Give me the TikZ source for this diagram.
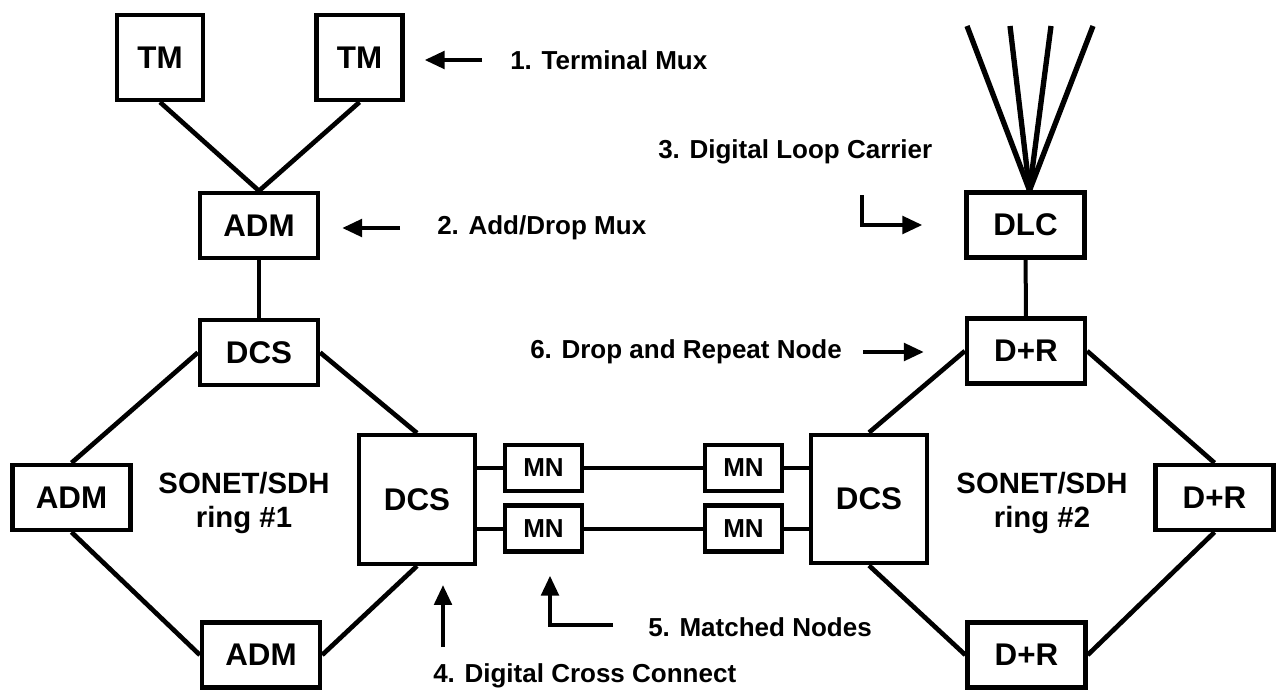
\documentclass[tikz,border=0pt]{standalone}
\usepackage{fontspec}
\setmainfont{Liberation Sans}
\usetikzlibrary{arrows.meta,calc}
\begin{document}
\begin{tikzpicture}[x=0.75pt,y=-0.75pt,
  box/.style={draw,line width=3.2pt,inner sep=0pt,minimum width=88.5pt,minimum height=48.75pt,
    font=\fontsize{23.5}{27}\selectfont\bfseries},
  tmbox/.style={box,minimum width=64.5pt,minimum height=63.75pt},
  bigbox/.style={box,minimum width=87pt,minimum height=96.5pt},
  mnbox/.style={box,minimum width=57.75pt,minimum height=34.5pt,font=\fontsize{19.5}{22}\selectfont\bfseries},
  lbl/.style={inner sep=0pt,anchor=west,font=\fontsize{19.5}{23}\selectfont\bfseries},
  ringlbl/.style={inner sep=0pt,align=center,font=\fontsize{22}{25.5}\selectfont\bfseries},
  link/.style={line width=3pt},
  diag/.style={line width=3.5pt},
  fanline/.style={line width=4pt},
  arr/.style={line width=3.2pt,-{Triangle[length=15pt,width=13pt]}}]
\useasboundingbox (0,0) rectangle (1276,689);

% equipment boxes
\node[tmbox] (tm1) at (160,57.5) {TM};
\node[tmbox] (tm2) at (359.5,57.5) {TM};
\node[box] (adm1) at (259,225.5) {ADM};
\node[box] (dcs1) at (259,352.5) {DCS};
\node[box] (admL) at (71.5,497.5) {ADM};
\node[box] (admB) at (261,655) {ADM};
\node[bigbox] (dcsL) at (417,499.5) {DCS};
\node[mnbox] (mntl) at (543.5,468) {MN};
\node[mnbox] (mnbl) at (543.5,528.5) {MN};
\node[mnbox] (mntr) at (743.5,468) {MN};
\node[mnbox] (mnbr) at (743.5,528.5) {MN};
\node[bigbox] (dcsR) at (869,499) {DCS};
\node[box] (dlc) at (1025.5,225) {DLC};
\node[box] (dr1) at (1026,351) {D+R};
\node[box] (drR) at (1214.5,497.5) {D+R};
\node[box] (drB) at (1026.5,655) {D+R};

% ring captions
\node[ringlbl] (ring1) at (244,503) {SONET/SDH\\ring \#1};
\node[ringlbl] (ring2) at (1042,503) {SONET/SDH\\ring \#2};

% legend texts
\node[lbl] (l1) at (510,60) {1. Terminal Mux};
\node[lbl] (l2) at (437,228) {2. Add/Drop Mux};
\node[lbl] (l3) at (658,152) {3. Digital Loop Carrier};
\node[lbl] (l4) at (433,676) {4. Digital Cross Connect};
\node[lbl] (l5) at (648,627) {5. Matched Nodes};
\node[lbl] (l6) at (530,352) {6. Drop and Repeat Node};

% access side
\draw[diag] (tm1.south) -- (adm1.north);
\draw[diag] (tm2.south) -- (adm1.north);
\draw[link] (adm1) -- (dcs1);
\draw[link] (dlc) -- (dr1);

% subscriber fan-out of the loop carrier
\coordinate (fanbase) at ($(dlc.north)+(4,0)$);
\coordinate (f1) at (967,26);
\coordinate (f2) at (1010,26);
\coordinate (f3) at (1051,26);
\coordinate (f4) at (1093,26);
\foreach \f in {f1,f2,f3,f4} \draw[fanline] (fanbase) -- (\f);

% ring #1
\draw[diag] (dcs1.west) -- (admL.north);
\draw[diag] (dcs1.east) -- (dcsL.north);
\draw[diag] (admL.south) -- (admB.west);
\draw[diag] (admB.east) -- (dcsL.south);

% ring #2
\draw[diag] (dr1.west) -- (dcsR.north);
\draw[diag] (dr1.east) -- (drR.north);
\draw[diag] (drR.south) -- (drB.east);
\draw[diag] (dcsR.south) -- (drB.west);

% matched-node interconnection
\draw[link] (dcsL.east |- mntl.west) -- (mntl.west);
\draw[link] (mntl) -- (mntr);
\draw[link] (mntr.east) -- (mntr.east -| dcsR.west);
\draw[link] (dcsL.east |- mnbl.west) -- (mnbl.west);
\draw[link] (mnbl) -- (mnbr);
\draw[link] (mnbr.east) -- (mnbr.east -| dcsR.west);

% pointer arrows
\draw[arr,shorten <=21pt,shorten >=15pt] (l1.west) -- (l1.west -| tm2.east);
\draw[arr,shorten <=27.75pt,shorten >=16.5pt] (l2.west) -- (l2.west -| adm1.east);
\coordinate (a3) at (862,195);
\draw[arr] (a3) |- ($(dlc.west)+(-42,0)$);
\draw[arr,shorten >=30.75pt] ($(l6.west)+(333,0)$) -- (l6.west -| dr1.west);
\coordinate (a4) at (443,647);
\draw[arr] (a4) -- ($(dcsL.south)+(26,19)$);
\coordinate (a5) at (613,625);
\draw[arr] (a5) -| ($(mnbl.south)+(6.5,22)$);
\end{tikzpicture}
\end{document}
